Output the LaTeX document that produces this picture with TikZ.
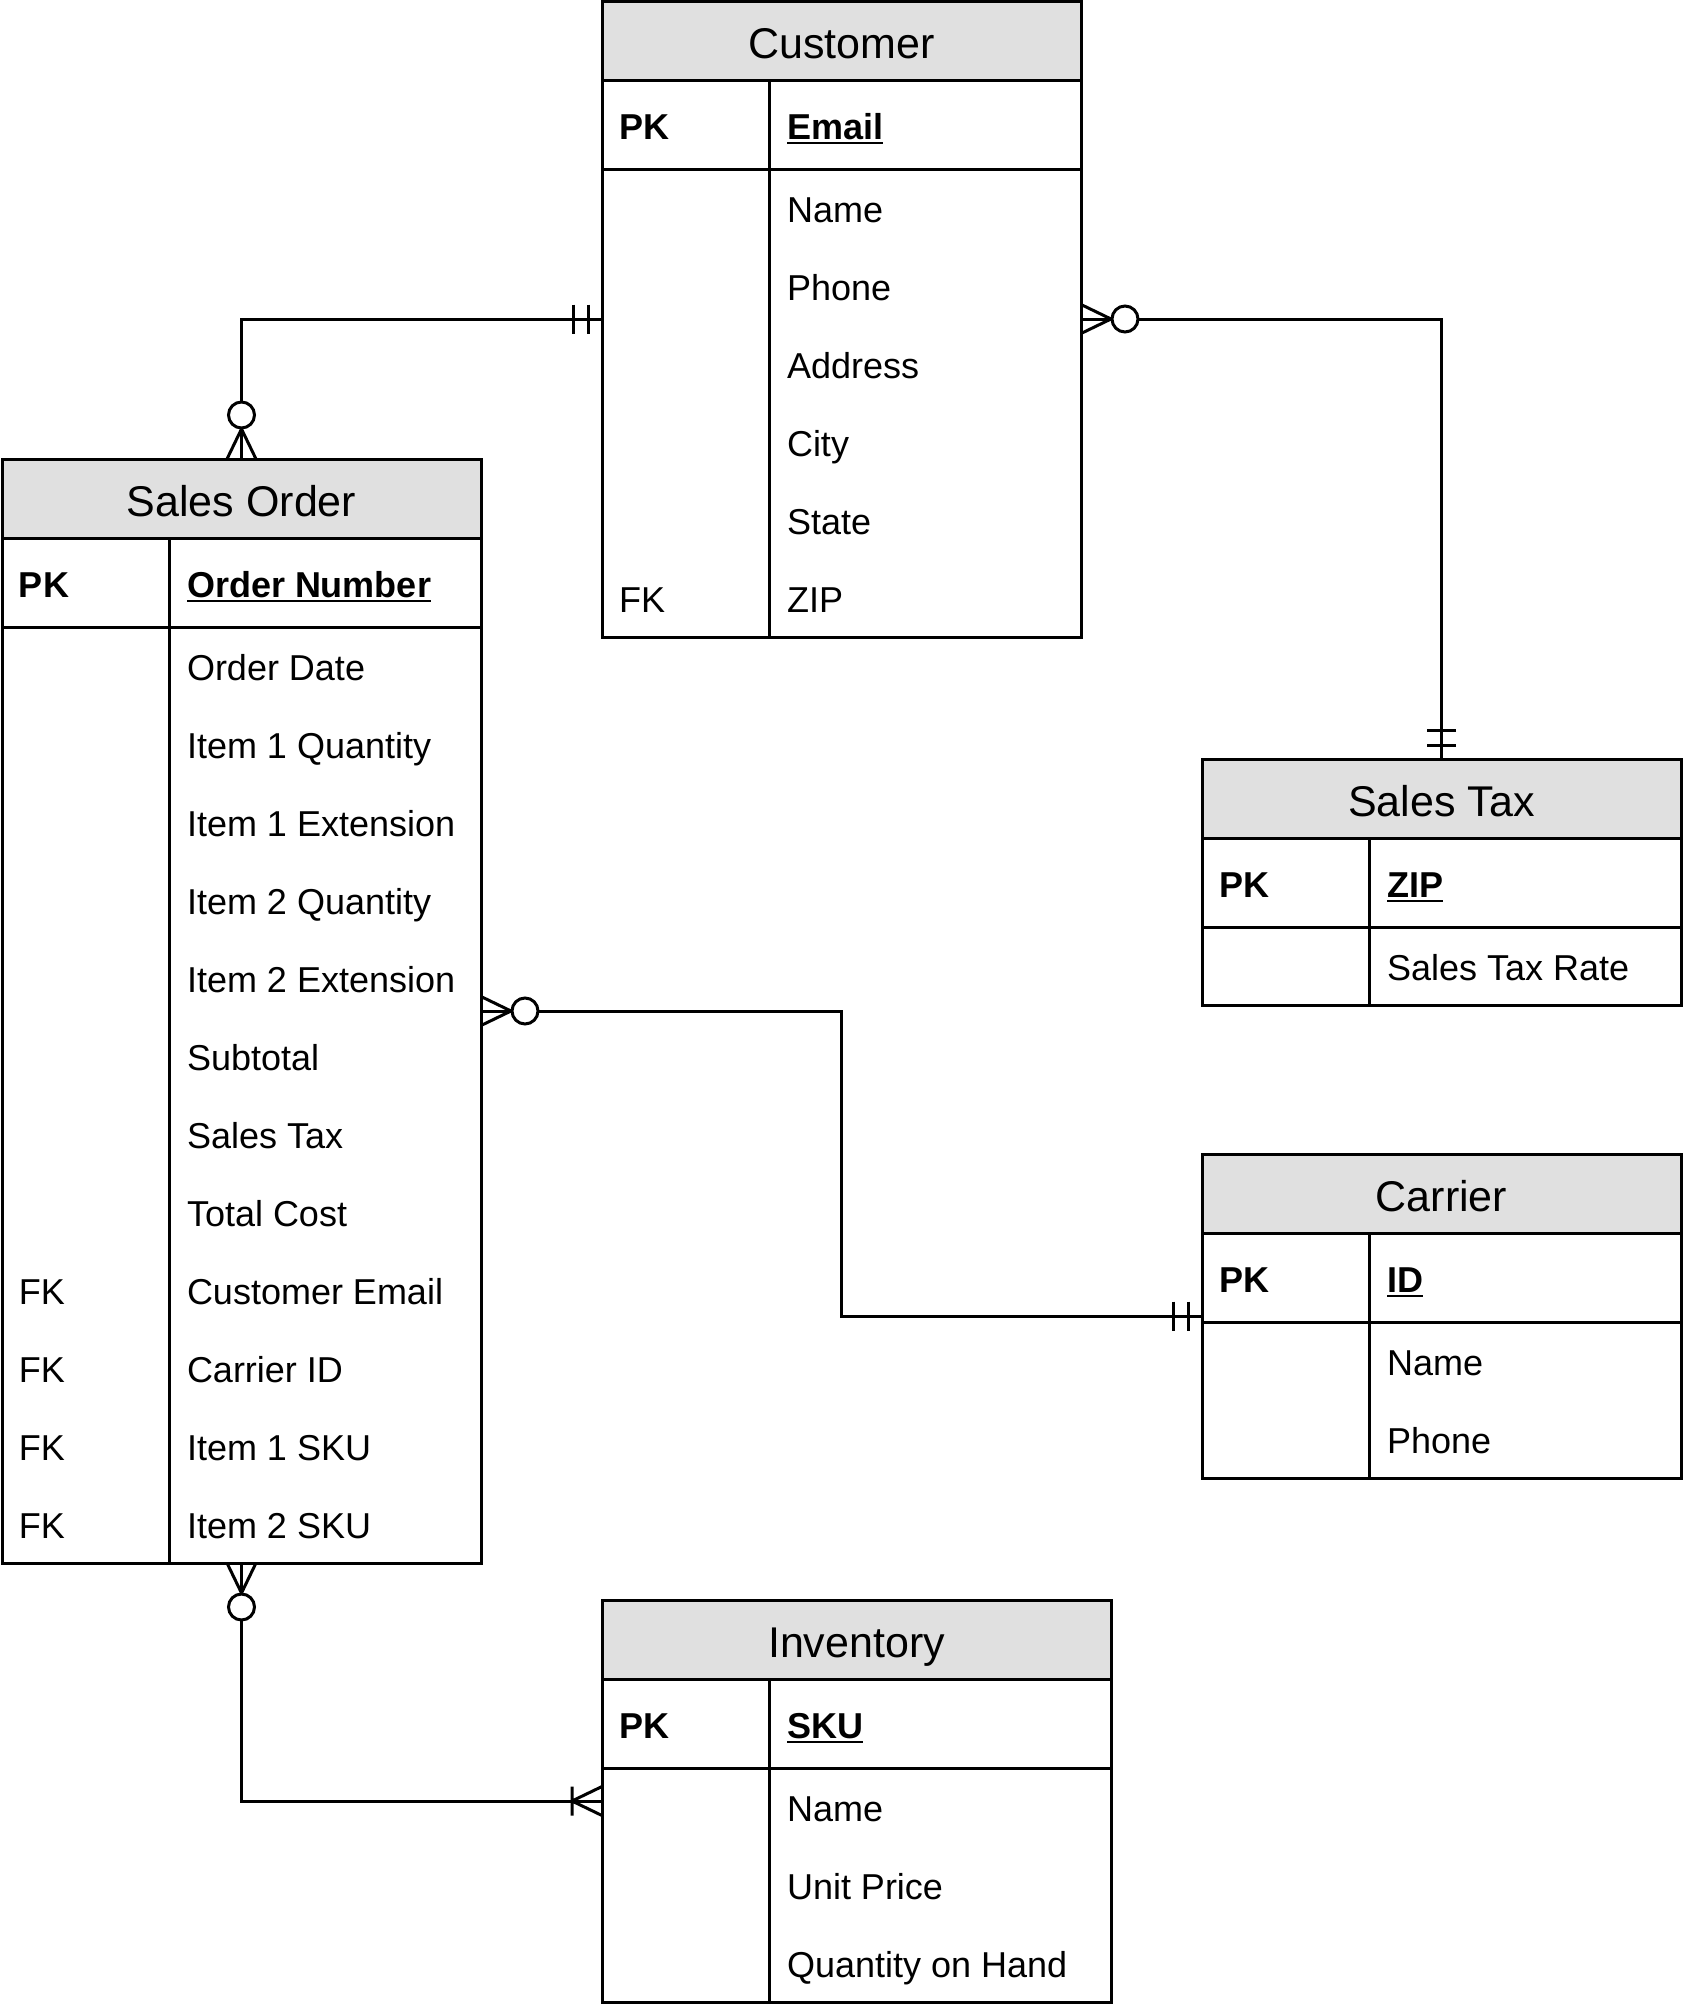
\documentclass[tikz,border=0pt]{standalone}
\usepackage{fontspec}
\setmainfont{Liberation Sans}
\usetikzlibrary{calc}
\definecolor{hdrgray}{RGB}{224,224,224}
\tikzset{
  tbl/.style={draw=black, line width=3pt, fill=white, inner sep=0pt, outer sep=0pt, rectangle},
  hdr/.style={draw=black, line width=3pt, fill=hdrgray, inner sep=0pt, outer sep=0pt, rectangle, minimum height=79pt},
  tline/.style={line width=3pt, draw=black},
  cell/.style={anchor=base west, inner sep=0pt, outer sep=0pt, font=\fontsize{36}{43}\selectfont},
  title/.style={anchor=base, inner sep=0pt, outer sep=0pt, font=\fontsize{43}{52}\selectfont},
  conn/.style={line width=3pt, draw=black},
  zeromany/.pic={\draw[conn] (0,14.5) -- (30,0) -- (0,-14.5); \draw[conn, fill=white] (44,0) circle (13);},
  onlyone/.pic={\draw[conn] (14,-14.5) -- (14,14.5) (29,-14.5) -- (29,14.5);},
  onemany/.pic={\draw[conn] (0,14.5) -- (30,0) -- (0,-14.5) (30,-14.5) -- (30,14.5);}
}
\newcommand{\ertable}[8]{%
  \pgfmathsetmacro{\ertblh}{79+89+78*#5}%
  \node[tbl, minimum width=#4pt, minimum height=\ertblh pt, anchor=north west] (#1) at (#2,-#3) {};
  \node[hdr, minimum width=#4pt, anchor=north west] (#1-head) at (#1.north west) {};
  \node[title] (#1-title) at ($(#1-head.center)+(0,-17.5)$) {#6};
  \draw[tline] ($(#1.north west)+(0,-168)$) -- ($(#1.north east)+(0,-168)$);
  \draw[tline] ($(#1.north west)+(167,-79)$) -- ($(#1.south west)+(167,0)$);
  \node[cell] (#1-pkkey) at ($(#1.north west)+(17,-138)$) {\bfseries PK};
  \node[cell] (#1-pk) at ($(#1.north west)+(185,-138)$) {\bfseries #7};
  \draw[line width=2.5pt] ($(#1-pk.base west)+(0,-4)$) -- ($(#1-pk.base east)+(0,-4)$);
  \foreach \k/\f [count=\i] in {#8} {
    \node[cell] (#1-k\i) at ($(#1.north west)+(17,-168-78*\i+24.5)$) {\k};
    \node[cell] (#1-f\i) at ($(#1.north west)+(185,-168-78*\i+24.5)$) {\f};
  }
}
\begin{document}
\begin{tikzpicture}[x=1pt, y=1pt]
\useasboundingbox (0,0) rectangle (1683,-2013);

\ertable{cust}{602}{1}{479}{6}{Customer}{Email}{/Name, /Phone, /Address, /City, /State, FK/ZIP}
\ertable{so}{2}{459}{479}{12}{Sales Order}{Order Number}{/Order Date, /Item 1 Quantity, /Item 1 Extension, /Item 2 Quantity, /Item 2 Extension, /Subtotal, /Sales Tax, /Total Cost, FK/Customer Email, FK/Carrier ID, FK/Item 1 SKU, FK/Item 2 SKU}
\ertable{stax}{1202}{759}{479}{1}{Sales Tax}{ZIP}{/Sales Tax Rate}
\ertable{car}{1202}{1154}{479}{2}{Carrier}{ID}{/Name, /Phone}
\ertable{inv}{602}{1600}{509}{3}{Inventory}{SKU}{/Name, /Unit Price, /Quantity on Hand}

\draw[conn] (cust.west) -| (so.north);
\draw[conn] (cust.east) -| (stax.north);
\draw[conn] (so.east) -| ($(so.east)!.5!(car.west)$) |- (car.west);
\draw[conn] (so.south) |- (inv.west);

\pic[rotate=180] at (cust.west) {onlyone};
\pic[rotate=90] at (so.north) {zeromany};
\pic at (cust.east) {zeromany};
\pic[rotate=90] at (stax.north) {onlyone};
\pic at (so.east) {zeromany};
\pic[rotate=180] at (car.west) {onlyone};
\pic[rotate=-90] at (so.south) {zeromany};
\pic[rotate=180] at (inv.west) {onemany};
\end{tikzpicture}
\end{document}
